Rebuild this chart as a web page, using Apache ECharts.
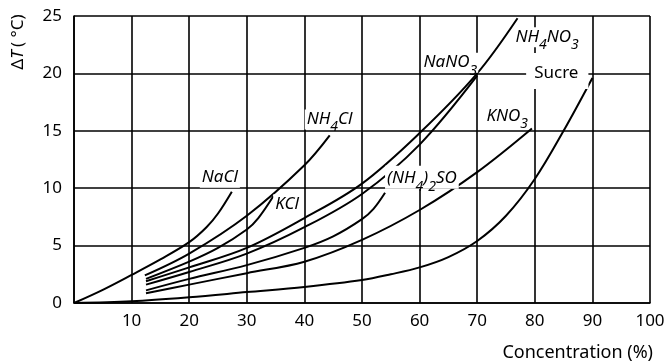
<!DOCTYPE html>
<html>
<head>
<meta charset="utf-8">
<script src="https://cdn.jsdelivr.net/npm/echarts@6/dist/echarts.min.js"></script>
<style>
  html, body { margin: 0; padding: 0; background: #fff; }
  #chart { width: 668px; height: 361px; }
</style>
</head>
<body>
<div id="chart"></div>
<script>
// courbes : [concentration %, deltaT °C]
const naCl = [[0, 0], [5, 1.15], [10, 2.45], [15, 3.8], [20, 5.3], [23, 6.6], [25, 7.8], [27.4, 9.7]]
const kCl = [[12.5, 2.1], [20, 3.6], [25, 4.8], [30, 6.4], [32, 7.4], [34.6, 9.3]]
const nh4Cl = [[12.3, 2.4], [20, 4.3], [30, 7.6], [40, 12.0], [44.4, 14.6]]
const nh42So4 = [[12.5, 1.1], [20, 2.1], [30, 3.3], [40, 4.8], [45, 5.8], [50, 7.3], [52, 8.2], [54, 9.6]]
const kNo3 = [[12.5, 0.85], [20, 1.6], [30, 2.6], [40, 3.6], [50, 5.5], [60, 8.1], [70, 11.4], [79.5, 15.2]]
const naNo3 = [[12.5, 1.6], [20, 2.7], [30, 4.3], [40, 6.6], [50, 9.5], [60, 13.8], [70, 19.8]]
const nh4No3 = [[12.5, 1.9], [20, 3.1], [30, 4.8], [40, 7.4], [50, 10.4], [60, 14.8], [70, 20], [77, 24.8]]
const sucre = [[0, 0], [10, 0.15], [20, 0.5], [30, 0.95], [40, 1.4], [50, 2.0], [55, 2.5], [60, 3.1], [65, 4.0], [70, 5.4], [75, 7.6], [80, 10.8], [85, 15], [90, 19.6]]

// axes
const xMin = 0, xMax = 100, xStep = 10
const yMin = 0, yMax = 25, yStep = 5

const font = 'Noto Sans'

// texte riche : italique + indices
const rich = {
  i: { fontFamily: font, fontStyle: 'italic', fontSize: 17, lineHeight: 18, verticalAlign: 'top', color: '#000' },
  s: { fontFamily: font, fontStyle: 'italic', fontSize: 14, lineHeight: 14, verticalAlign: 'top', padding: [10, 0, 0, 0], color: '#000' },
  r: { fontFamily: font, fontSize: 17, lineHeight: 18, verticalAlign: 'top', color: '#000' }
}

const curves = [
  { name: 'NaCl', data: naCl, text: '{i|NaCl}', align: 'left', offset: [-32, -24], padding: [1, 2] },
  { name: 'KCl', data: kCl, text: '{i|KCl}', align: 'left', offset: [0, -2], padding: [1, 2] },
  { name: 'NH4Cl', data: nh4Cl, text: '{i|NH}{s|4}{i|Cl}', align: 'left', offset: [-25, -26], padding: [1, 2] },
  { name: '(NH4)2SO4', data: nh42So4, text: '{i|(NH}{s|4}{i|)}{s|2}{i|SO}', align: 'left', offset: [0, -27], padding: [4, 2, 1, 2] },
  { name: 'KNO3', data: kNo3, text: '{i|KNO}{s|3}', align: 'right', offset: [-2, -22], padding: [1, 2] },
  { name: 'NaNO3', data: naNo3, text: '{i|NaNO}{s|3}', align: 'right', offset: [1, -23], padding: [1, 1] },
  { name: 'NH4NO3', data: nh4No3, text: '{i|NH}{s|4}{i|NO}{s|3}', align: 'left', offset: [-4, 9], padding: [1, 2] },
  { name: 'Sucre', data: sucre, text: '{r|Sucre}', align: 'right', offset: [-4, -25], padding: [12, 10, 6, 8] }
]

const chart = echarts.init(document.getElementById('chart'))

const gridLine = { show: true, lineStyle: { color: '#000', width: 1.6 } }

chart.setOption({
  animation: false,
  backgroundColor: '#fff',
  grid: { left: 74, right: 18, top: 16, bottom: 58, outerBoundsMode: 'none' },
  xAxis: {
    type: 'value',
    min: xMin, max: xMax, interval: xStep,
    axisLine: { show: true, lineStyle: { color: '#000', width: 1.6 } },
    axisTick: { show: false },
    splitLine: gridLine,
    axisLabel: {
      margin: 10, color: '#000', fontFamily: font, fontSize: 17,
      formatter: v => (v === 0 ? '' : v)
    }
  },
  yAxis: {
    type: 'value',
    min: yMin, max: yMax, interval: yStep,
    axisLine: { show: true, lineStyle: { color: '#000', width: 1.6 } },
    axisTick: { show: false },
    splitLine: gridLine,
    axisLabel: { margin: 12, color: '#000', fontFamily: font, fontSize: 17 }
  },
  series: curves.map(c => ({
    name: c.name,
    type: 'line',
    data: c.data,
    smooth: 0.35,
    symbol: 'none',
    lineStyle: { color: '#000', width: 2 },
    endLabel: {
      show: true,
      distance: 0,
      align: c.align,
      verticalAlign: 'top',
      offset: c.offset,
      backgroundColor: '#fff',
      padding: c.padding,
      formatter: () => c.text,
      rich: rich
    }
  })),
  graphic: [
    {
      type: 'text',
      x: 18, y: 42,
      rotation: Math.PI / 2,
      style: {
        text: '{a|Δ}{b|T} {a|( °C)}',
        align: 'center',
        verticalAlign: 'middle',
        rich: {
          a: { fontFamily: font, fontSize: 17, fill: '#000' },
          b: { fontFamily: font, fontSize: 17, fontStyle: 'italic', fill: '#000' }
        }
      }
    },
    {
      type: 'text',
      x: 653, y: 353,
      style: {
        text: 'Concentration (%)',
        align: 'right',
        verticalAlign: 'middle',
        fontFamily: font, fontSize: 18, fill: '#000'
      }
    }
  ]
})
</script>
</body>
</html>
